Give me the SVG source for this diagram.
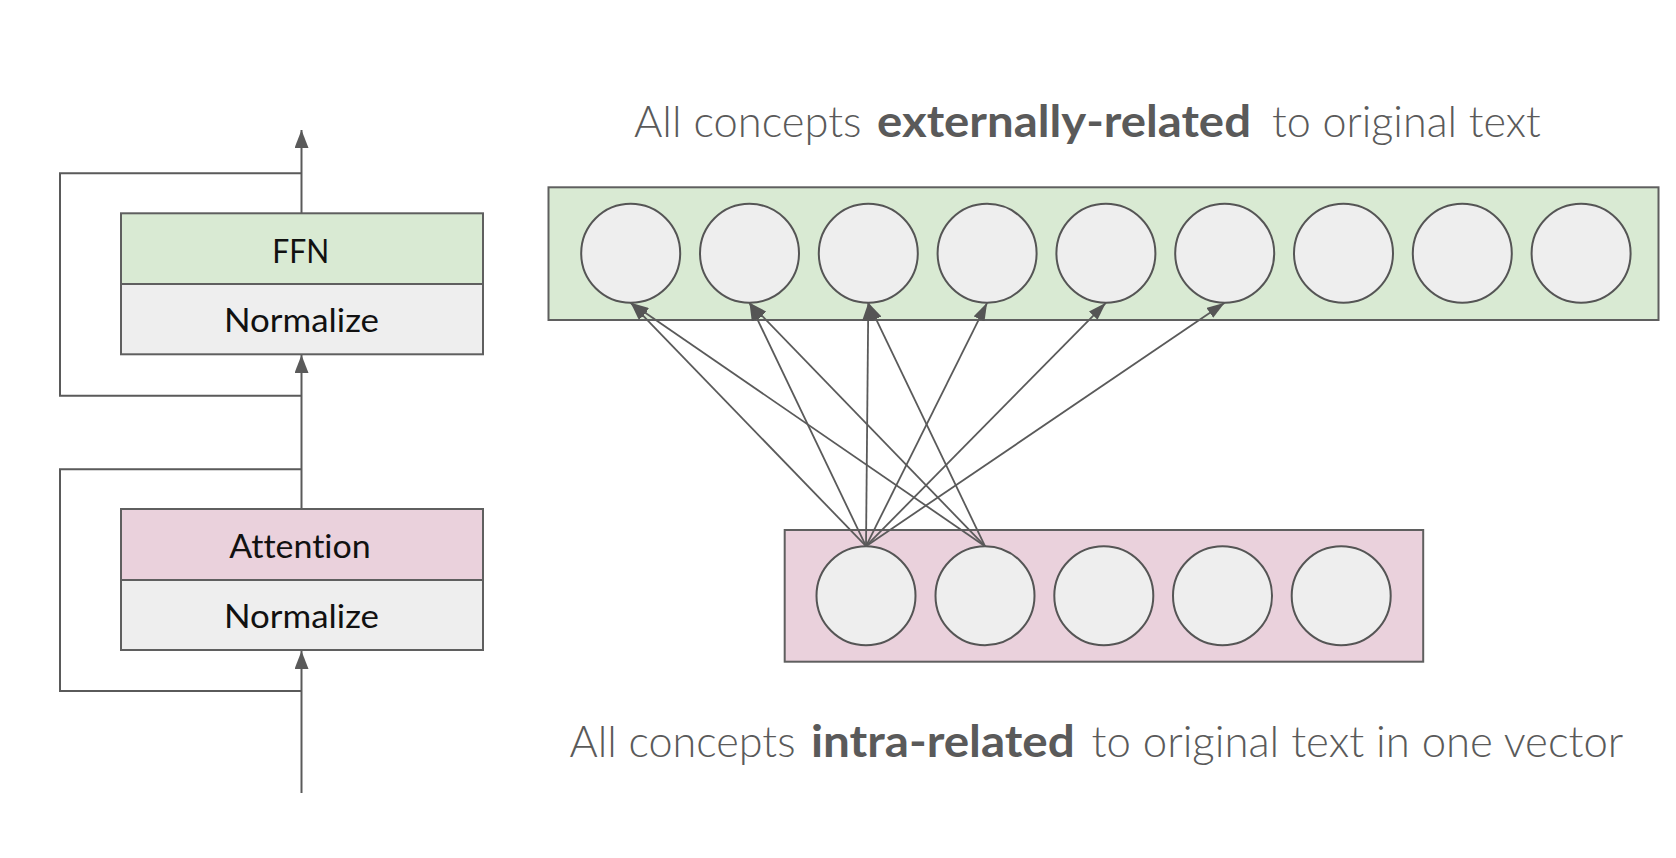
<svg xmlns="http://www.w3.org/2000/svg" width="1676" height="858" viewBox="0 0 1676 858">
<style>
text{font-variant-ligatures:none}
.box{stroke:#5f5f5f;stroke-width:2}
.ffn{fill:#d9ead3}
.att{fill:#ead1dc}
.norm{fill:#eeeeee}
.circ{fill:#eeeeee;stroke:#555555;stroke-width:2}
.lbl{font-family:Lato,"Liberation Sans",sans-serif;font-size:33px;fill:#111111;text-anchor:start}
.ttl{font-family:Lato,"Liberation Sans",sans-serif;font-size:44px;fill:#5a5a5a;font-weight:300}
.b{font-weight:700}
.ln{fill:none;stroke:#5a5a5a;stroke-width:2}
.ar{fill:none;stroke:#5a5a5a;stroke-width:1.8;marker-end:url(#ah)}
.arl{fill:none;stroke:#5a5a5a;stroke-width:2;marker-end:url(#ahl)}
</style>
<defs>
<marker id="ah" markerUnits="userSpaceOnUse" markerWidth="18" markerHeight="12" refX="18" refY="6" orient="auto">
<path d="M0,0 L18,6 L0,12 z" fill="#555555"/>
</marker>
<marker id="ahl" markerUnits="userSpaceOnUse" markerWidth="18" markerHeight="14" refX="18" refY="7" orient="auto">
<path d="M0,0 L18,7 L0,14 z" fill="#5a5a5a"/>
</marker>
</defs>
<rect width="1676" height="858" fill="#ffffff"/>

<g id="connectors">
<polyline class="ln" points="301.5,691 60,691 60,469.3 301.5,469.3"/>
<polyline class="ln" points="301.5,395.7 60,395.7 60,173.3 301.5,173.3"/>
<line class="arl" x1="301.5" y1="793" x2="301.5" y2="651"/>
<line class="arl" x1="301.5" y1="509" x2="301.5" y2="355"/>
<line class="arl" x1="301.5" y1="213.3" x2="301.5" y2="130"/>
</g>

<g id="ffn-block">
<rect class="box ffn" x="121" y="213.3" width="362" height="70.7"/>
<rect class="box norm" x="121" y="284" width="362" height="70.3"/>
<text class="lbl" x="272.3" y="262.7" textLength="57" lengthAdjust="spacingAndGlyphs">FFN</text>
<text class="lbl" x="224" y="331.7" textLength="155" lengthAdjust="spacingAndGlyphs">Normalize</text>
</g>

<g id="attention-block">
<rect class="box att" x="121" y="509" width="362" height="71"/>
<rect class="box norm" x="121" y="580" width="362" height="70"/>
<text class="lbl" x="229.3" y="558.3" textLength="141.4" lengthAdjust="spacingAndGlyphs">Attention</text>
<text class="lbl" x="224" y="628.3" textLength="155" lengthAdjust="spacingAndGlyphs">Normalize</text>
</g>

<g id="external-vector">
<rect class="box ffn" x="548.5" y="187.3" width="1110" height="132.7"/>
<circle class="circ" cx="630.7" cy="253.3" r="49.5"/>
<circle class="circ" cx="749.5" cy="253.3" r="49.5"/>
<circle class="circ" cx="868.3" cy="253.3" r="49.5"/>
<circle class="circ" cx="987.1" cy="253.3" r="49.5"/>
<circle class="circ" cx="1105.9" cy="253.3" r="49.5"/>
<circle class="circ" cx="1224.7" cy="253.3" r="49.5"/>
<circle class="circ" cx="1343.5" cy="253.3" r="49.5"/>
<circle class="circ" cx="1462.3" cy="253.3" r="49.5"/>
<circle class="circ" cx="1581.1" cy="253.3" r="49.5"/>
</g>

<g id="intra-vector">
<rect class="box att" x="784.7" y="530" width="638.5" height="131.7"/>
<circle class="circ" cx="866" cy="595.7" r="49.5"/>
<circle class="circ" cx="985" cy="595.7" r="49.5"/>
<circle class="circ" cx="1103.8" cy="595.7" r="49.5"/>
<circle class="circ" cx="1222.5" cy="595.7" r="49.5"/>
<circle class="circ" cx="1341.2" cy="595.7" r="49.5"/>
</g>

<g id="concept-arrows">
<line class="ar" x1="866" y1="546.2" x2="630.7" y2="302.8"/>
<line class="ar" x1="866" y1="546.2" x2="749.5" y2="302.8"/>
<line class="ar" x1="866" y1="546.2" x2="868.3" y2="302.8"/>
<line class="ar" x1="866" y1="546.2" x2="987.1" y2="302.8"/>
<line class="ar" x1="866" y1="546.2" x2="1105.9" y2="302.8"/>
<line class="ar" x1="866" y1="546.2" x2="1224.7" y2="302.8"/>
<line class="ar" x1="985" y1="546.2" x2="630.7" y2="302.8"/>
<line class="ar" x1="985" y1="546.2" x2="749.5" y2="302.8"/>
<line class="ar" x1="985" y1="546.2" x2="868.3" y2="302.8"/>
</g>

<g id="title-top">
<text class="ttl" x="634" y="137.3" textLength="227.6" lengthAdjust="spacingAndGlyphs">All concepts</text>
<text class="ttl b" x="877.1" y="137.3" textLength="373.9" lengthAdjust="spacingAndGlyphs">externally-related</text>
<text class="ttl" x="1272" y="137.3" textLength="268.7" lengthAdjust="spacingAndGlyphs">to original text</text>
</g>

<g id="title-bottom">
<text class="ttl" x="569.6" y="757.3" textLength="225.9" lengthAdjust="spacingAndGlyphs">All concepts</text>
<text class="ttl b" x="811" y="757.3" textLength="263.7" lengthAdjust="spacingAndGlyphs">intra-related</text>
<text class="ttl" x="1091.6" y="757.3" textLength="531.7" lengthAdjust="spacingAndGlyphs">to original text in one vector</text>
</g>
</svg>
